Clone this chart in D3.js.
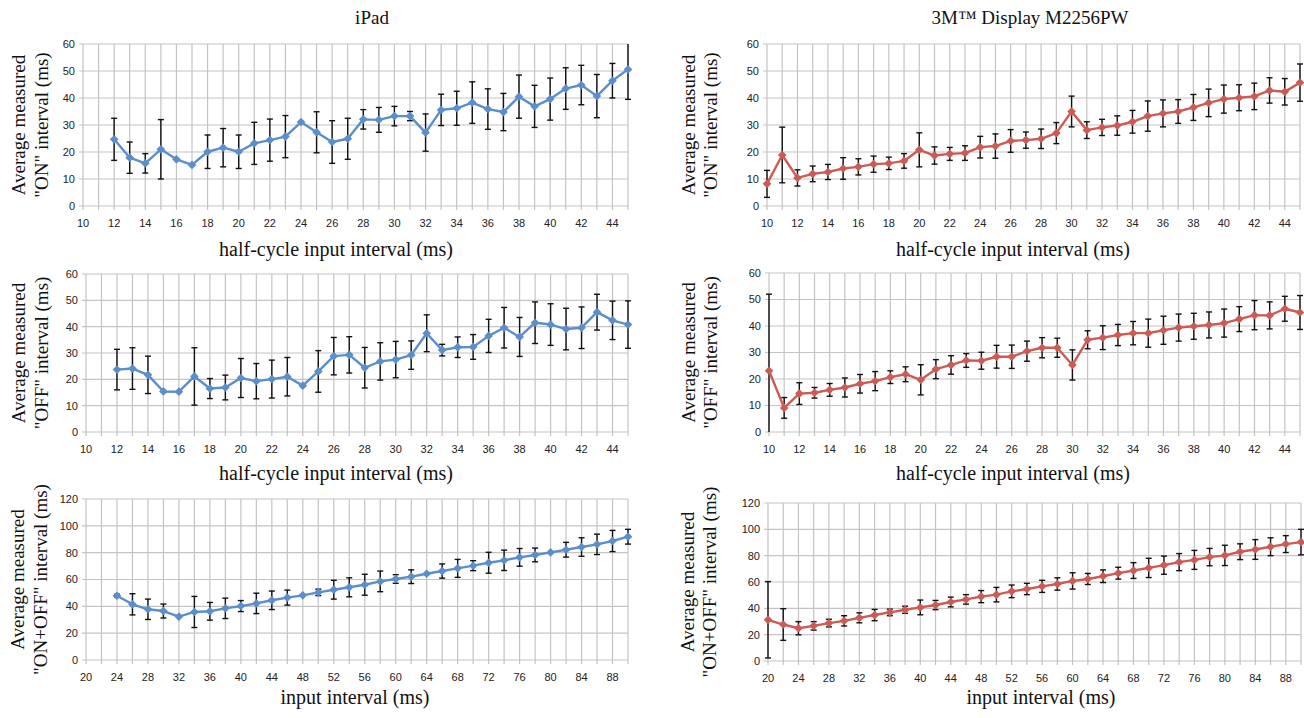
<!DOCTYPE html>
<html>
<head>
<meta charset="utf-8">
<script src="https://cdn.jsdelivr.net/npm/d3@7"></script>
<style>
  body { margin: 0; background: #fff; }
  svg { display: block; }
  .tick-label { font-family: "Liberation Sans", Arial, sans-serif; font-size: 11px; fill: #222; }
  .serif { font-family: "Liberation Serif", "Times New Roman", serif; font-size: 19px; fill: #111; }
  .xtitle { font-size: 20px; }
</style>
</head>
<body>
<div id="chart"></div>
<script>
'use strict';

// ---- tick labels ----
const halfCycleTicks = [10, 12, 14, 16, 18, 20, 22, 24, 26, 28, 30, 32, 34, 36, 38, 40, 42, 44];
const inputTicks = [20, 24, 28, 32, 36, 40, 44, 48, 52, 56, 60, 64, 68, 72, 76, 80, 84, 88];
const yTicks60 = [0, 10, 20, 30, 40, 50, 60];
const yTicks120 = [0, 20, 40, 60, 80, 100, 120];

// ---- iPad "ON" ----
const ipadOnX = [12, 13, 14, 15, 16, 17, 18, 19, 20, 21, 22, 23, 24, 25, 26, 27, 28, 29, 30, 31, 32, 33, 34, 35, 36, 37, 38, 39, 40, 41, 42, 43, 44, 45];
const ipadOnMean = [24.7, 17.9, 15.8, 21.0, 17.3, 15.2, 20.1, 21.6, 20.1, 23.2, 24.4, 25.7, 31.1, 27.3, 23.7, 24.9, 32.1, 31.9, 33.3, 33.3, 27.2, 35.6, 36.2, 38.3, 35.9, 34.8, 40.5, 36.9, 39.6, 43.5, 44.8, 40.7, 46.4, 50.6];
const ipadOnErr = [7.8, 5.8, 3.6, 11.0, 0, 0, 6.2, 7.1, 6.2, 7.8, 7.8, 7.8, 0, 7.6, 7.9, 7.6, 3.6, 4.6, 3.6, 1.7, 6.9, 5.8, 6.3, 7.7, 7.5, 6.9, 8.0, 7.8, 7.8, 7.7, 7.3, 8.0, 6.4, 11.1];

// ---- 3M "ON" ----
const m3OnX = [10, 11, 12, 13, 14, 15, 16, 17, 18, 19, 20, 21, 22, 23, 24, 25, 26, 27, 28, 29, 30, 31, 32, 33, 34, 35, 36, 37, 38, 39, 40, 41, 42, 43, 44, 45];
const m3OnMean = [8.2, 18.9, 10.4, 11.9, 12.6, 13.9, 14.5, 15.5, 15.8, 16.7, 20.8, 18.7, 19.3, 19.6, 21.8, 22.2, 24.1, 24.4, 24.9, 27.0, 35.0, 28.1, 29.1, 29.8, 31.2, 33.3, 34.3, 35.0, 36.5, 38.2, 39.6, 40.1, 40.6, 42.8, 42.3, 45.7];
const m3OnErr = [5.0, 10.3, 3.0, 2.9, 2.8, 4.0, 3.0, 3.0, 2.3, 2.7, 6.3, 3.2, 2.4, 2.7, 4.0, 4.5, 4.2, 3.0, 3.6, 3.9, 5.7, 3.1, 3.0, 3.6, 4.2, 5.6, 5.0, 4.4, 4.8, 5.1, 5.2, 4.8, 4.9, 4.7, 4.9, 6.9];

// ---- iPad "OFF" ----
const ipadOffX = [12, 13, 14, 15, 16, 17, 18, 19, 20, 21, 22, 23, 24, 25, 26, 27, 28, 29, 30, 31, 32, 33, 34, 35, 36, 37, 38, 39, 40, 41, 42, 43, 44, 45];
const ipadOffMean = [23.7, 24.1, 21.7, 15.4, 15.3, 21.1, 16.5, 16.9, 20.5, 19.3, 20.1, 21.0, 17.6, 23.0, 28.8, 29.3, 24.4, 26.8, 27.5, 29.2, 37.5, 31.1, 32.2, 32.3, 36.5, 39.6, 36.1, 41.5, 40.8, 39.1, 39.6, 45.5, 42.4, 40.8];
const ipadOffErr = [7.7, 7.9, 7.1, 0, 0, 10.9, 3.8, 4.7, 7.4, 6.7, 7.2, 7.3, 0, 7.9, 7.1, 6.9, 7.7, 7.1, 6.9, 5.4, 7.0, 2.2, 3.9, 4.7, 6.3, 7.7, 7.4, 7.9, 7.9, 7.9, 7.9, 6.8, 7.3, 9.0];

// ---- 3M "OFF" ----
const m3OffX = [10, 11, 12, 13, 14, 15, 16, 17, 18, 19, 20, 21, 22, 23, 24, 25, 26, 27, 28, 29, 30, 31, 32, 33, 34, 35, 36, 37, 38, 39, 40, 41, 42, 43, 44, 45];
const m3OffMean = [23.1, 9.1, 14.5, 14.8, 15.9, 16.8, 18.2, 19.2, 20.7, 21.8, 19.7, 23.7, 25.3, 27.0, 26.9, 28.4, 28.4, 30.5, 31.8, 31.8, 25.3, 34.8, 35.6, 36.6, 37.3, 37.3, 38.4, 39.4, 39.9, 40.4, 41.1, 42.6, 44.1, 44.0, 46.5, 45.1];
const m3OffErr = [28.9, 3.9, 4.1, 2.0, 2.4, 3.6, 3.5, 3.6, 2.4, 2.8, 5.7, 3.6, 3.5, 2.6, 3.2, 4.3, 4.4, 3.8, 3.8, 3.6, 5.7, 3.4, 4.5, 4.0, 4.4, 5.3, 5.3, 5.1, 4.9, 4.9, 5.3, 4.7, 5.5, 5.1, 4.7, 6.4];

// ---- iPad "ON+OFF" ----
const ipadSumX = [24, 26, 28, 30, 32, 34, 36, 38, 40, 42, 44, 46, 48, 50, 52, 54, 56, 58, 60, 62, 64, 66, 68, 70, 72, 74, 76, 78, 80, 82, 84, 86, 88, 90];
const ipadSumMean = [47.9, 41.5, 37.8, 36.5, 32.3, 35.8, 36.3, 38.5, 40.2, 42.2, 44.5, 46.5, 48.2, 50.4, 52.4, 54.2, 56.1, 58.6, 60.4, 62.1, 64.3, 66.3, 68.3, 70.3, 72.5, 74.3, 76.5, 78.3, 80.2, 82.2, 84.2, 86.2, 88.7, 91.9];
const ipadSumErr = [1.1, 7.9, 7.6, 5.2, 0, 11.6, 6.6, 7.6, 4.1, 7.6, 6.9, 5.6, 0, 2.4, 7.0, 7.1, 7.8, 7.7, 3.2, 5.1, 0, 5.3, 6.7, 3.7, 7.8, 7.6, 6.6, 5.1, 0, 5.5, 6.9, 7.6, 7.9, 5.5];

// ---- 3M "ON+OFF" ----
const m3SumX = [20, 22, 24, 26, 28, 30, 32, 34, 36, 38, 40, 42, 44, 46, 48, 50, 52, 54, 56, 58, 60, 62, 64, 66, 68, 70, 72, 74, 76, 78, 80, 82, 84, 86, 88, 90];
const m3SumMean = [31.3, 27.7, 24.9, 26.7, 28.8, 30.5, 32.8, 34.9, 36.9, 38.9, 40.7, 42.5, 44.8, 46.8, 48.9, 50.4, 52.9, 54.7, 56.7, 58.5, 60.8, 62.3, 64.4, 66.7, 68.7, 70.7, 72.8, 75.1, 76.8, 78.9, 80.2, 83.0, 84.7, 86.8, 88.8, 90.3];
const m3SumErr = [29.0, 12.0, 5.0, 3.2, 2.9, 3.9, 3.8, 4.3, 2.5, 2.7, 5.6, 3.5, 3.7, 3.6, 4.6, 5.5, 4.8, 4.3, 4.6, 4.7, 6.2, 4.2, 4.8, 4.5, 6.0, 7.3, 6.9, 6.5, 7.2, 6.6, 7.7, 6.0, 7.5, 6.8, 6.4, 9.7];

const blue = '#5b8ecb';
const red = '#cd5b55';

const W = 1304, H = 718;
const svg = d3.select('#chart').append('svg').attr('width', W).attr('height', H);

function zip(xs, ms, es) {
  return xs.map((x, i) => ({ x: x, m: ms[i], e: es[i] }));
}

const panels = [
  { box: [83, 44, 628, 206], xDom: [10, 45], gridStep: 1, xTicks: halfCycleTicks, yMax: 60, yTicks: yTicks60,
    data: zip(ipadOnX, ipadOnMean, ipadOnErr), color: blue, yTitle: ['Average measured', '"ON" interval (ms)'],
    tx: [18, 41], xTitle: 'half-cycle input interval (ms)', xtPos: [336, 256] },
  { box: [767, 44, 1300, 206], xDom: [10, 45], gridStep: 1, xTicks: halfCycleTicks, yMax: 60, yTicks: yTicks60,
    data: zip(m3OnX, m3OnMean, m3OnErr), color: red, yTitle: ['Average measured', '"ON" interval (ms)'],
    tx: [688, 710], xTitle: 'half-cycle input interval (ms)', xtPos: [1013, 256] },
  { box: [86, 274, 628, 432], xDom: [10, 45], gridStep: 1, xTicks: halfCycleTicks, yMax: 60, yTicks: yTicks60,
    data: zip(ipadOffX, ipadOffMean, ipadOffErr), color: blue, yTitle: ['Average measured', '"OFF" interval (ms)'],
    tx: [18, 41], xTitle: 'half-cycle input interval (ms)', xtPos: [336, 480] },
  { box: [769, 273, 1300, 432], xDom: [10, 45], gridStep: 1, xTicks: halfCycleTicks, yMax: 60, yTicks: yTicks60,
    data: zip(m3OffX, m3OffMean, m3OffErr), color: red, yTitle: ['Average measured', '"OFF" interval (ms)'],
    tx: [688, 710], xTitle: 'half-cycle input interval (ms)', xtPos: [1013, 480] },
  { box: [86, 499, 628, 660], xDom: [20, 90], gridStep: 2, xTicks: inputTicks, yMax: 120, yTicks: yTicks120,
    data: zip(ipadSumX, ipadSumMean, ipadSumErr), color: blue, yTitle: ['Average measured', '"ON+OFF" interval (ms)'],
    tx: [17, 40], xTitle: 'input interval (ms)', xtPos: [355, 704] },
  { box: [768, 503, 1301, 661], xDom: [20, 90], gridStep: 2, xTicks: inputTicks, yMax: 120, yTicks: yTicks120,
    data: zip(m3SumX, m3SumMean, m3SumErr), color: red, yTitle: ['Average measured', '"ON+OFF" interval (ms)'],
    tx: [687, 709], xTitle: 'input interval (ms)', xtPos: [1041, 704] }
];

function drawPanel(p) {
  const [x0, y0, x1, y1] = p.box;
  const x = d3.scaleLinear().domain(p.xDom).range([x0, x1]);
  const y = d3.scaleLinear().domain([0, p.yMax]).range([y1, y0]).clamp(true);
  const g = svg.append('g');

  // grid
  const xGrid = d3.range(p.xDom[0], p.xDom[1] + 0.001, p.gridStep);
  g.append('g').selectAll('line').data(xGrid).enter().append('line')
    .attr('x1', d => x(d)).attr('x2', d => x(d)).attr('y1', y0).attr('y2', y1 + 4)
    .attr('stroke', '#c4c4c4').attr('stroke-width', 1.2);
  g.append('g').selectAll('line').data(p.yTicks).enter().append('line')
    .attr('x1', x0 - 4).attr('x2', x1).attr('y1', d => y(d)).attr('y2', d => y(d))
    .attr('stroke', '#c4c4c4').attr('stroke-width', 1.2);

  // tick labels
  g.append('g').selectAll('text').data(p.yTicks).enter().append('text')
    .attr('class', 'tick-label').attr('x', x0 - 8).attr('y', d => y(d)).attr('dy', '0.35em')
    .attr('text-anchor', 'end').text(d => d);
  g.append('g').selectAll('text').data(p.xTicks).enter().append('text')
    .attr('class', 'tick-label').attr('x', d => x(d)).attr('y', y1 + 17).attr('dy', '0.35em')
    .attr('text-anchor', 'middle').text(d => d);

  // error bars
  const eb = g.append('g').attr('stroke', '#111').attr('stroke-width', 1.4);
  const withErr = p.data.filter(d => d.e > 0);
  eb.selectAll('line.v').data(withErr).enter().append('line')
    .attr('x1', d => x(d.x)).attr('x2', d => x(d.x))
    .attr('y1', d => y(d.m + d.e)).attr('y2', d => y(d.m - d.e));
  eb.selectAll('line.t').data(withErr.filter(d => d.m + d.e <= p.yMax)).enter().append('line')
    .attr('x1', d => x(d.x) - 3).attr('x2', d => x(d.x) + 3)
    .attr('y1', d => y(d.m + d.e)).attr('y2', d => y(d.m + d.e));
  eb.selectAll('line.b').data(withErr.filter(d => d.m - d.e >= 0)).enter().append('line')
    .attr('x1', d => x(d.x) - 3).attr('x2', d => x(d.x) + 3)
    .attr('y1', d => y(d.m - d.e)).attr('y2', d => y(d.m - d.e));

  // line + diamond markers
  const line = d3.line().x(d => x(d.x)).y(d => y(d.m));
  g.append('path').datum(p.data).attr('d', line)
    .attr('fill', 'none').attr('stroke', p.color).attr('stroke-width', 2.4).attr('stroke-linejoin', 'round');
  const diamond = d3.symbol().type(d3.symbolDiamond2).size(48);
  g.append('g').selectAll('path').data(p.data).enter().append('path')
    .attr('d', diamond).attr('transform', d => `translate(${x(d.x)},${y(d.m)})`)
    .attr('fill', p.color);

  // axis titles
  const cy = (y0 + y1) / 2;
  p.yTitle.forEach((t, i) => {
    g.append('text').attr('class', 'serif')
      .attr('transform', `translate(${p.tx[i]},${cy}) rotate(-90)`)
      .attr('text-anchor', 'middle').attr('dy', '0.35em').text(t);
  });
  g.append('text').attr('class', 'serif xtitle').attr('x', p.xtPos[0]).attr('y', p.xtPos[1])
    .attr('text-anchor', 'middle').text(p.xTitle);
}

panels.forEach(drawPanel);

// column titles
svg.append('text').attr('class', 'serif').attr('x', 372).attr('y', 24)
  .attr('text-anchor', 'middle').text('iPad');
svg.append('text').attr('class', 'serif').attr('x', 1030).attr('y', 24)
  .attr('text-anchor', 'middle').text('3M™ Display M2256PW');
</script>
</body>
</html>
